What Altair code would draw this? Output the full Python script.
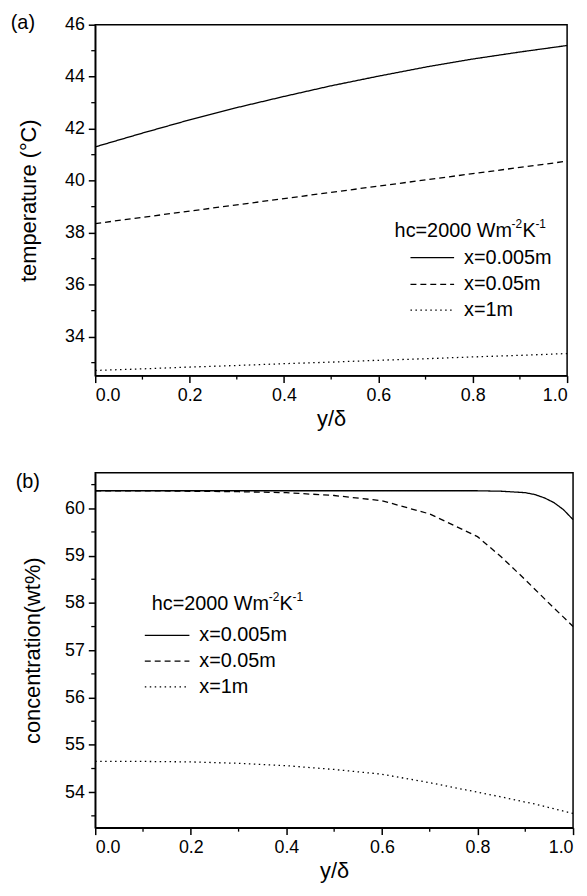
import altair as alt
import pandas as pd

# ---------------- data ----------------
series_labels = ["x=0.005m", "x=0.05m", "x=1m"]

x_a = [0.0, 0.1, 0.2, 0.3, 0.4, 0.5, 0.6, 0.7, 0.8, 0.9, 1.0]
temp_solid = [41.30, 41.83, 42.34, 42.81, 43.24, 43.65, 44.02, 44.37, 44.68, 44.95, 45.20]
temp_dashed = [38.35, 38.59, 38.83, 39.07, 39.31, 39.55, 39.79, 40.03, 40.27, 40.51, 40.75]
temp_dotted = [32.70, 32.76, 32.83, 32.89, 32.96, 33.02, 33.09, 33.15, 33.22, 33.28, 33.35]

x_b = [0.0, 0.1, 0.2, 0.3, 0.4, 0.5, 0.6, 0.7, 0.8, 0.85, 0.9, 0.92, 0.94, 0.96, 0.98, 1.0]
conc_solid = [60.37, 60.37, 60.37, 60.37, 60.37, 60.37, 60.37, 60.37, 60.37, 60.36,
              60.33, 60.29, 60.22, 60.12, 59.97, 59.76]
conc_dashed = [60.37, 60.37, 60.36, 60.35, 60.33, 60.27, 60.16, 59.88, 59.40, 58.97,
               58.49, 58.29, 58.09, 57.89, 57.70, 57.50]
conc_dotted = [54.65, 54.65, 54.64, 54.61, 54.56, 54.48, 54.38, 54.20, 54.00, 53.90,
               53.79, 53.75, 53.70, 53.65, 53.60, 53.55]

x_ticks = [0.0, 0.2, 0.4, 0.6, 0.8, 1.0]
x_minor = [0.1, 0.3, 0.5, 0.7, 0.9]
ya_ticks = [34, 36, 38, 40, 42, 44, 46]
ya_minor = [33, 35, 37, 39, 41, 43, 45]
yb_ticks = [54, 55, 56, 57, 58, 59, 60]
yb_minor = [53.5, 54.5, 55.5, 56.5, 57.5, 58.5, 59.5, 60.5]

header_main = "hc=2000 Wm"
header_exp1 = "-2"
header_unit2 = "K"
header_exp2 = "-1"

FONT = "Liberation Sans"
DASHES = [[1, 0], [6, 4], [1.5, 3.5]]


def long_df(xs, ys_list):
    rows = []
    for lab, ys in zip(series_labels, ys_list):
        for xv, yv in zip(xs, ys):
            rows.append({"x": xv, "y": yv, "series": lab})
    return pd.DataFrame(rows)


def text_layer(txt, px, py, size=20, align="left"):
    return alt.Chart(pd.DataFrame({"t": [txt]})).mark_text(
        align=align, baseline="middle", font=FONT, fontSize=size, color="black"
    ).encode(text="t:N", x=alt.value(px), y=alt.value(py))


def legend_layers(L, T, line_l, line_r, text_l, rows):
    layers = [
        text_layer(header_main, L, T),
        text_layer(header_exp1, L + 118, T - 7, size=12),
        text_layer(header_unit2, L + 129, T),
        text_layer(header_exp2, L + 142, T - 7, size=12),
    ]
    for lab, dash, ry in zip(series_labels, DASHES, rows):
        layers.append(
            alt.Chart(pd.DataFrame({"s": [lab]})).mark_rule(
                color="black", strokeWidth=1.3, strokeDash=dash
            ).encode(x=alt.value(line_l), x2=alt.value(line_r), y=alt.value(ry))
        )
        layers.append(text_layer(lab, text_l, ry))
    return layers


def panel(xs, ys_list, ydom, yticks, yminor, ytitle, tpad, W, H, tag, tagx, tagy, leg):
    df = long_df(xs, ys_list)
    xscale = alt.Scale(domain=[0, 1], nice=False, zero=False)
    yscale = alt.Scale(domain=ydom, nice=False, zero=False)
    xaxis = alt.Axis(values=x_ticks, format=".1f", title="y/δ", titlePadding=4)
    yaxis = alt.Axis(values=yticks, format="d", title=ytitle, titlePadding=tpad)
    lines = alt.Chart(df).mark_line(color="black", strokeWidth=1.3).encode(
        x=alt.X("x:Q", scale=xscale, axis=xaxis),
        y=alt.Y("y:Q", scale=yscale, axis=yaxis),
        strokeDash=alt.StrokeDash("series:N",
                                  scale=alt.Scale(domain=series_labels, range=DASHES),
                                  legend=None),
        detail="series:N",
    )
    ymin = alt.Chart(pd.DataFrame({"y": yminor})).mark_rule(
        color="black", strokeWidth=1.3
    ).encode(y=alt.Y("y:Q", scale=yscale, axis=yaxis), x=alt.value(-4), x2=alt.value(0))
    xmin = alt.Chart(pd.DataFrame({"x": x_minor})).mark_rule(
        color="black", strokeWidth=1.3
    ).encode(x=alt.X("x:Q", scale=xscale, axis=xaxis), y=alt.value(H), y2=alt.value(H + 4))
    lab = text_layer(tag, tagx, tagy, size=20, align="center")
    layers = [lines, ymin, xmin, lab] + legend_layers(*leg)
    return alt.layer(*layers).properties(width=W, height=H)


pa = panel(x_a, [temp_solid, temp_dashed, temp_dotted], [32.5, 46], ya_ticks, ya_minor,
           "temperature (°C)", 24, 476, 354, "(a)", -73, -2,
           (302, 208, 318, 362, 372, [235, 262, 288]))
pb = panel(x_b, [conc_solid, conc_dashed, conc_dotted], [53.25, 60.75], yb_ticks, yb_minor,
           "concentration(wt%)", 20, 482, 358, "(b)", -68, 9,
           (57, 132, 50, 95, 105, [164, 190, 216]))

chart = alt.concat(pa, pb, columns=1, spacing=41, align="none").properties(
    padding={"left": 2, "top": 0, "right": 2, "bottom": 2}
).configure_axis(
    domainColor="black", domainWidth=1.5, tickColor="black", tickWidth=1.5, tickSize=7,
    labelFont=FONT, labelFontSize=18, labelColor="black", labelPadding=4,
    titleFont=FONT, titleFontSize=22, titleFontWeight="normal", titleColor="black",
    grid=False,
).configure_view(stroke="black", strokeWidth=1.5)

chart.save("out.html", embed_options={"renderer": "svg", "actions": False})
